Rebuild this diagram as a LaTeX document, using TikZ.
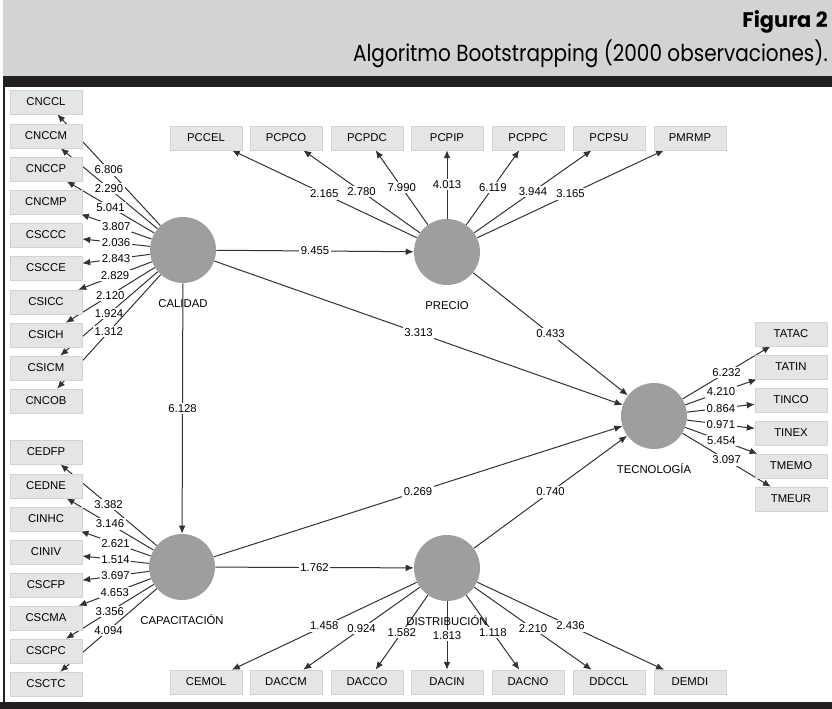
\documentclass[tikz,border=0pt]{standalone}
\usepackage{fontspec}
\newfontfamily\headfont{Poppins}
\newfontfamily\diagfont{Liberation Sans}
\usetikzlibrary{arrows.meta,positioning}
\definecolor{headgray}{RGB}{210,211,213}
\definecolor{bargray}{RGB}{35,31,32}
\definecolor{latgray}{RGB}{158,158,158}
\definecolor{indgray}{RGB}{228,229,230}
\definecolor{edgegray}{RGB}{50,50,50}
\pgfdeclarelayer{edges}
\pgfsetlayers{edges,main}

\begin{document}
\begin{tikzpicture}[x=0.75pt,y=-0.75pt,
    every node/.style={font=\diagfont\fontsize{8.5}{10}\selectfont},
    latent/.style={circle,fill=latgray,minimum size=49.5pt,inner sep=0pt},
    latlab/.style={inner sep=0pt,text height=6pt,text depth=0pt},
    ind/.style={rectangle,fill=indgray,draw=indgray!92!black,line width=0.3pt,
        minimum width=54pt,minimum height=18pt,inner sep=0pt},
    link/.style={draw=edgegray,line width=0.75pt,-{Latex[length=6pt,width=5pt]}},
    val/.style={midway,fill=white,inner sep=1.2pt}]
    \useasboundingbox (0,0) rectangle (832,709);

    % header and frame
    \fill[headgray] (3,0) rectangle (832,76);
    \fill[bargray] (3,76) rectangle (832,87);
    \fill[bargray] (0,702) rectangle (832,709);
    \draw[bargray,line width=1.5pt] (4,87) -- (4,702);
    \node[anchor=north east,inner sep=0pt,font=\headfont\bfseries] (fig) at (828,10)
        {\resizebox*{64pt}{17pt}{Figura 2}};
    \node[anchor=north east,inner sep=0pt,font=\headfont] (tit) at (828,40)
        {\resizebox*{356pt}{21pt}{Algoritmo Bootstrapping (2000 observaciones).}};

    % latent variables
    \node[latent] (cal) at (183,250) {};
    \node[latent] (pre) at (447,252) {};
    \node[latent] (tec) at (654,416) {};
    \node[latent] (cap) at (182,567) {};
    \node[latent] (dis) at (447,568) {};
    \node[latlab,below=12pt of cal] (calLab) {CALIDAD};
    \node[latlab,below=12pt of pre] (preLab) {PRECIO};
    \node[latlab,below=12pt of tec] (tecLab) {TECNOLOGÍA};
    \node[latlab,below=12pt of cap] (capLab) {CAPACITACIÓN};
    \node[latlab,below=12pt of dis] (disLab) {DISTRIBUCIÓN};

    % structural paths
    \begin{pgfonlayer}{edges}
        \draw[link] (cal) -- (pre) node[val] {9.455};
        \draw[link] (cal) -- (tec) node[val] {3.313};
        \draw[link] (pre) -- (tec) node[val] {0.433};
        \draw[link] (cal) -- (cap) node[val] {6.128};
        \draw[link] (cap) -- (tec) node[val] {0.269};
        \draw[link] (cap) -- (dis) node[val] {1.762};
        \draw[link] (dis) -- (tec) node[val] {0.740};
    \end{pgfonlayer}

    % indicators
    \foreach \nm/\yy/\vv in {CNCCL/102/6.806, CNCCM/136/2.290, CNCCP/169/5.041,
        CNCMP/202/3.807, CSCCC/235/2.036, CSCCE/268/2.843, CSICC/302/2.829,
        CSICH/335/2.120, CSICM/368/1.924, CNCOB/401/1.312} {
        \node[ind] (\nm) at (46,\yy) {\nm};
        \begin{pgfonlayer}{edges}
            \draw[link] (cal) -- (\nm) node[val] {\vv};
        \end{pgfonlayer}
    }
    \foreach \nm/\xx/\vv in {PCCEL/206/2.165, PCPCO/286/2.780, PCPDC/367/7.990,
        PCPIP/447/4.013, PCPPC/528/6.119, PCPSU/609/3.944, PMRMP/690/3.165} {
        \node[ind] (\nm) at (\xx,138) {\nm};
        \begin{pgfonlayer}{edges}
            \draw[link] (pre) -- (\nm) node[val] {\vv};
        \end{pgfonlayer}
    }
    \foreach \nm/\yy/\vv in {TATAC/334/6.232, TATIN/367/4.210, TINCO/400/0.864,
        TINEX/433/0.971, TMEMO/466/5.454, TMEUR/499/3.097} {
        \node[ind] (\nm) at (791,\yy) {\nm};
        \begin{pgfonlayer}{edges}
            \draw[link] (tec) -- (\nm) node[val] {\vv};
        \end{pgfonlayer}
    }
    \foreach \nm/\yy/\vv in {CEDFP/452/3.382, CEDNE/486/3.146, CINHC/519/2.621,
        CINIV/552/1.514, CSCFP/585/3.697, CSCMA/618/4.653, CSCPC/651/3.356,
        CSCTC/684/4.094} {
        \node[ind] (\nm) at (46,\yy) {\nm};
        \begin{pgfonlayer}{edges}
            \draw[link] (cap) -- (\nm) node[val] {\vv};
        \end{pgfonlayer}
    }
    \foreach \nm/\xx/\vv in {CEMOL/206/1.458, DACCM/286/0.924, DACCO/367/1.582,
        DACIN/447/1.813, DACNO/528/1.118, DDCCL/609/2.210, DEMDI/690/2.436} {
        \node[ind] (\nm) at (\xx,682) {\nm};
        \begin{pgfonlayer}{edges}
            \draw[link] (dis) -- (\nm) node[val] {\vv};
        \end{pgfonlayer}
    }
\end{tikzpicture}
\end{document}
